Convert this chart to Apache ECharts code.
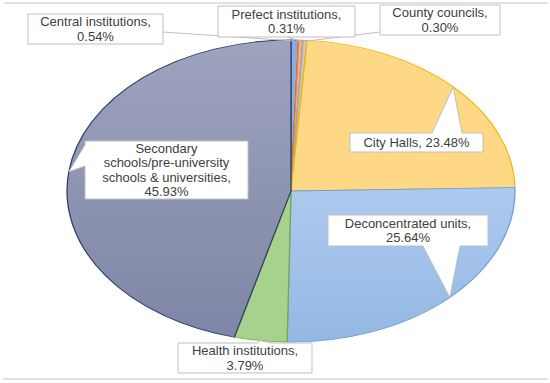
<!DOCTYPE html>
<html>
<head>
<meta charset="utf-8">
<script src="https://cdn.jsdelivr.net/npm/echarts@6/dist/echarts.min.js"></script>
<style>
html,body{margin:0;padding:0;background:#fff;overflow:hidden;}
#wrap{position:relative;width:550px;height:383px;overflow:hidden;}
#pie{position:absolute;left:61px;top:-39px;width:460px;height:460px;transform-origin:50% 50%;transform:scaleY(0.6741);}
#lab{position:absolute;left:0;top:0;width:550px;height:383px;pointer-events:none;}
</style>
</head>
<body>
<div id="wrap"><div id="pie"></div><div id="lab"></div></div>
<script>
// ---- data ----
const categories = ['Central institutions', 'Prefect institutions', 'County councils', 'City Halls',
  'Deconcentrated units', 'Health institutions', 'Secondary schools/pre-university schools & universities'];
const shares = [0.54, 0.31, 0.30, 23.48, 25.64, 3.79, 45.93];

// ---- styles ----
const fills = ['#8FAADC', '#F4B183', '#C9C9C9', '#FFD886',
  {type:'linear',x:0,y:0,x2:0,y2:1,colorStops:[{offset:0,color:'#ADCAEE'},{offset:1,color:'#94B8E3'}]},
  '#A9D18E',
  {type:'linear',x:0,y:0,x2:0,y2:1,colorStops:[{offset:0,color:'#9EA4BE'},{offset:1,color:'#7E86A5'}]}];
const borders = ['#2F5597', '#ED7D31', '#A5A5A5', '#F2B800', '#6A9FD8', '#70AD47', '#2E3F6B'];

const pie = echarts.init(document.getElementById('pie'), null, {renderer: 'svg'});
pie.setOption({
  animation: false,
  series: [{
    type: 'pie',
    radius: 224,
    center: ['50%', '50%'],
    startAngle: 90,
    clockwise: true,
    label: {show: false},
    labelLine: {show: false},
    emphasis: {disabled: true},
    data: categories.map((c, i) => ({
      name: c, value: shares[i],
      itemStyle: {color: fills[i], borderColor: borders[i], borderWidth: 1.3}
    }))
  }]
});

// ---- label layout (ellipse geometry matching the scaled pie) ----
const cx = 291, cy = 191, rx = 224, ry = 151;
const total = shares.reduce((a, b) => a + b, 0);
let acc = 0;
const tips = shares.map(v => {
  const f = (acc + v / 2) / total; acc += v;
  const t = 2 * Math.PI * f;
  return [cx + rx * Math.sin(t), cy - ry * Math.cos(t)];
});

// box: [x, y, w, h], pointer kind, words per line
const boxes = [
  {b: [28, 14, 135, 30], kind: 'line', from: [163, 32], wpl: [2, 1]},
  {b: [218, 6, 137, 31], kind: 'line', from: [287, 37], wpl: [2, 1]},
  {b: [380, 5, 120, 30], kind: 'line', from: [380, 32], wpl: [2, 1]},
  {b: [350, 133, 133, 19], kind: 'top', base: [432, 462], wpl: [3]},
  {b: [328, 215, 160, 31], kind: 'bottom', base: [423, 460], wpl: [2, 1]},
  {b: [178, 343, 134, 30], kind: 'top', base: [258, 270], wpl: [2, 1]},
  {b: [85, 141, 163, 58], kind: 'left', base: [145, 166], wpl: [1, 1, 3, 1]}
];

function shape(o, tip) {
  const [x, y, w, h] = o.b;
  if (o.kind === 'top') return [[x,y],[o.base[0],y],tip,[o.base[1],y],[x+w,y],[x+w,y+h],[x,y+h]];
  if (o.kind === 'bottom') return [[x,y],[x+w,y],[x+w,y+h],[o.base[1],y+h],tip,[o.base[0],y+h],[x,y+h]];
  if (o.kind === 'left') return [[x,y],[x+w,y],[x+w,y+h],[x,y+h],[x,o.base[1]],tip,[x,o.base[0]]];
  return [[x,y],[x+w,y],[x+w,y+h],[x,y+h]];
}

function wrapLabel(i, wpl) {
  const words = (categories[i] + ', ' + shares[i].toFixed(2) + '%').split(' ');
  const lines = []; let k = 0;
  wpl.forEach(n => { lines.push(words.slice(k, k + n).join(' ')); k += n; });
  return lines.join('\n');
}

const elements = [
  {type: 'line', shape: {x1: 4, y1: 3, x2: 548, y2: 3}, style: {stroke: '#D9D9D9', lineWidth: 1.5}, z: 1},
  {type: 'line', shape: {x1: 3, y1: 379, x2: 548, y2: 379}, style: {stroke: '#D9D9D9', lineWidth: 1.5}, z: 1}
];
boxes.forEach((o, i) => {
  if (o.kind === 'line') {
    elements.push({type: 'line', shape: {x1: o.from[0], y1: o.from[1], x2: tips[i][0], y2: tips[i][1] + 1},
      style: {stroke: '#BFBFBF', lineWidth: 1}, z: 2});
  }
  elements.push({type: 'polygon', shape: {points: shape(o, tips[i])},
    style: {fill: '#fff', stroke: '#BFBFBF', lineWidth: 1}, z: 3});
  const [x, y, w, h] = o.b;
  elements.push({type: 'text', x: x + w / 2, y: y + h / 2, z: 4,
    style: {text: wrapLabel(i, o.wpl),
      align: 'center', verticalAlign: 'middle', lineHeight: 14.6,
      fontFamily: 'Liberation Sans', fontSize: 13, fill: '#404040'}});
});

const lab = echarts.init(document.getElementById('lab'), null, {renderer: 'svg'});
lab.setOption({animation: false, graphic: {elements: elements}});
</script>
</body>
</html>
